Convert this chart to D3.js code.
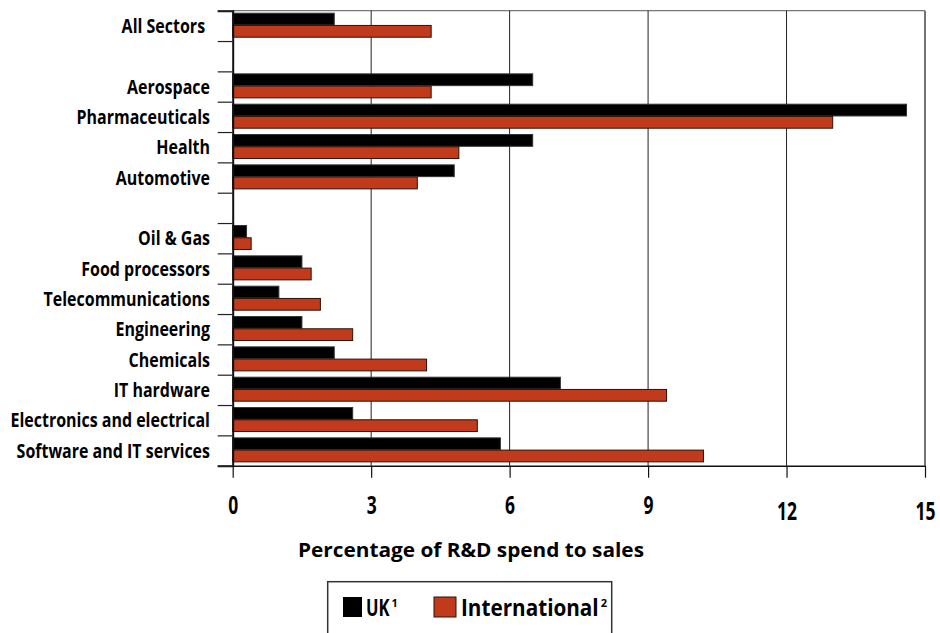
<!DOCTYPE html>
<html>
<head>
<meta charset="utf-8">
<script src="https://cdn.jsdelivr.net/npm/d3@7"></script>
<style>
  body { margin: 0; background: #fff; }
  svg { display: block; }
</style>
</head>
<body>
<svg id="chart" width="940" height="633"></svg>
<script>
// Sector groups, top to bottom; empty strings are spacer rows between groups.
const categories = [
  "All Sectors", "",
  "Aerospace", "Pharmaceuticals", "Health", "Automotive", "",
  "Oil & Gas", "Food processors", "Telecommunications", "Engineering",
  "Chemicals", "IT hardware", "Electronics and electrical", "Software and IT services"
];
// R&D spend as a percentage of sales
const ukValues = [2.2, null, 6.5, 14.6, 6.5, 4.8, null, 0.3, 1.5, 1.0, 1.5, 2.2, 7.1, 2.6, 5.8];
const intlValues = [4.3, null, 4.3, 13.0, 4.9, 4.0, null, 0.4, 1.7, 1.9, 2.6, 4.2, 9.4, 5.3, 10.2];
const seriesNames = ["UK", "International"];
const seriesNotes = ["1", "2"];
const xTicks = [0, 3, 6, 9, 12, 15];
const axisTitle = "Percentage of R&D spend to sales";

const colors = ["#000000", "#c13a1b"];
const font = "'Open Sans', 'Noto Sans', 'DejaVu Sans', sans-serif";

// squeeze (or widen) text horizontally about its anchor to give a condensed face
function condense(sel, factor) {
  sel.each(function () {
    const t = d3.select(this);
    const x0 = +t.attr("x") || 0;
    t.attr("x", x0 / factor).attr("transform", `scale(${factor},1)`);
  });
}

const svg = d3.select("#chart");
const plotLeft = 232.7, plotRight = 925, plotTop = 10.7, plotBottom = 465.7;

const x = d3.scaleLinear().domain([0, 15]).range([plotLeft, plotRight]);
const idx = d3.range(categories.length);
const y = d3.scaleBand().domain(idx).range([plotTop, plotBottom]).paddingInner(0).paddingOuter(0);
const yEdge = d3.scaleLinear().domain([0, categories.length]).range([plotTop, plotBottom]);
const ySub = d3.scaleBand().domain([0, 1]).range([2.5, 26.5]).paddingInner(0.04);

// frame: top and right borders
svg.append("line").attr("x1", plotLeft).attr("x2", plotRight).attr("y1", plotTop).attr("y2", plotTop)
  .attr("stroke", "#777").attr("stroke-width", 1.2);
svg.append("line").attr("x1", plotRight).attr("x2", plotRight).attr("y1", plotTop).attr("y2", plotBottom)
  .attr("stroke", "#444").attr("stroke-width", 1.5);

// vertical gridlines
svg.append("g").selectAll("line")
  .data(xTicks.filter(d => d > 0 && d < 15))
  .join("line")
  .attr("x1", d => x(d)).attr("x2", d => x(d))
  .attr("y1", plotTop).attr("y2", plotBottom)
  .attr("stroke", "#222").attr("stroke-width", 1);

// bars
const rows = idx.filter(i => ukValues[i] !== null);
const seriesData = [ukValues, intlValues];
const barG = svg.append("g");
rows.forEach(i => {
  seriesData.forEach((vals, s) => {
    barG.append("rect")
      .attr("x", x(0))
      .attr("y", y(i) + ySub(s))
      .attr("width", x(vals[i]) - x(0))
      .attr("height", ySub.bandwidth())
      .attr("fill", colors[s])
      .attr("stroke", s === 0 ? "#333" : "#2a1208")
      .attr("stroke-width", 1);
  });
});

// category labels
const yLabels = svg.append("g")
  .attr("transform", `translate(${plotLeft},0)`)
  .call(d3.axisLeft(y).tickSize(0).tickPadding(22.7).tickFormat(i => categories[i]));
yLabels.select(".domain").remove();
yLabels.selectAll("text")
  .attr("font-family", font)
  .attr("font-weight", 700)
  .attr("font-size", 19.5)
  .attr("fill", "#000")
  .attr("dy", "0.36em")
  .attr("dx", i => i === 0 ? -6 : 0)
  .call(condense, 0.82);

// boundary ticks on the category axis
const yTicks = svg.append("g")
  .attr("transform", `translate(${plotLeft},0)`)
  .call(d3.axisLeft(yEdge).tickValues(d3.range(categories.length + 1)).tickSize(15).tickFormat(""));
yTicks.select(".domain").attr("stroke", "#111").attr("stroke-width", 2);
yTicks.selectAll(".tick line").attr("stroke", "#222").attr("stroke-width", 1.2);

// value axis
const xAxis = svg.append("g")
  .attr("transform", `translate(0,${plotBottom})`)
  .call(d3.axisBottom(x).tickValues(xTicks).tickSize(12).tickSizeOuter(0));
xAxis.select(".domain").attr("stroke", "#111").attr("stroke-width", 1.5);
xAxis.selectAll(".tick line").attr("stroke", "#111").attr("stroke-width", 1.2);
xAxis.selectAll("text")
  .attr("font-family", font)
  .attr("font-weight", 700)
  .attr("font-size", 25)
  .attr("fill", "#000")
  .attr("dy", 0)
  .attr("y", d => d >= 10 ? 54.5 : 48.5)
  .call(condense, 0.7);

// axis title
svg.append("text")
  .attr("x", 471).attr("y", 557)
  .attr("text-anchor", "middle")
  .attr("font-family", font)
  .attr("font-weight", 700)
  .attr("font-size", 20)
  .text(axisTitle)
  .call(condense, 1.04);

// legend
const lg = svg.append("g");
lg.append("rect")
  .attr("x", 327.7).attr("y", 581.7).attr("width", 284).attr("height", 60)
  .attr("fill", "#fff").attr("stroke", "#333").attr("stroke-width", 1.5);
const legendItems = [
  { sx: 343, sw: 19, tx: 366, squeeze: 0.72 },
  { sx: 434, sw: 22, tx: 461, squeeze: 0.9 }
];
legendItems.forEach((it, s) => {
  lg.append("rect")
    .attr("x", it.sx).attr("y", 597).attr("width", it.sw).attr("height", 20)
    .attr("fill", colors[s])
    .attr("stroke", s === 0 ? "none" : "#2a1208").attr("stroke-width", 1);
  const name = lg.append("text")
    .attr("x", it.tx).attr("y", 616)
    .attr("font-family", font)
    .attr("font-weight", 700)
    .attr("font-size", 23)
    .attr("fill", "#000")
    .text(seriesNames[s]);
  const natural = name.node().getComputedTextLength();
  condense(name, it.squeeze);
  lg.append("text")
    .attr("x", it.tx + natural * it.squeeze + 2).attr("y", 607)
    .attr("font-family", font)
    .attr("font-weight", 700)
    .attr("font-size", 11)
    .attr("fill", "#000")
    .text(seriesNotes[s]);
});
</script>
</body>
</html>
